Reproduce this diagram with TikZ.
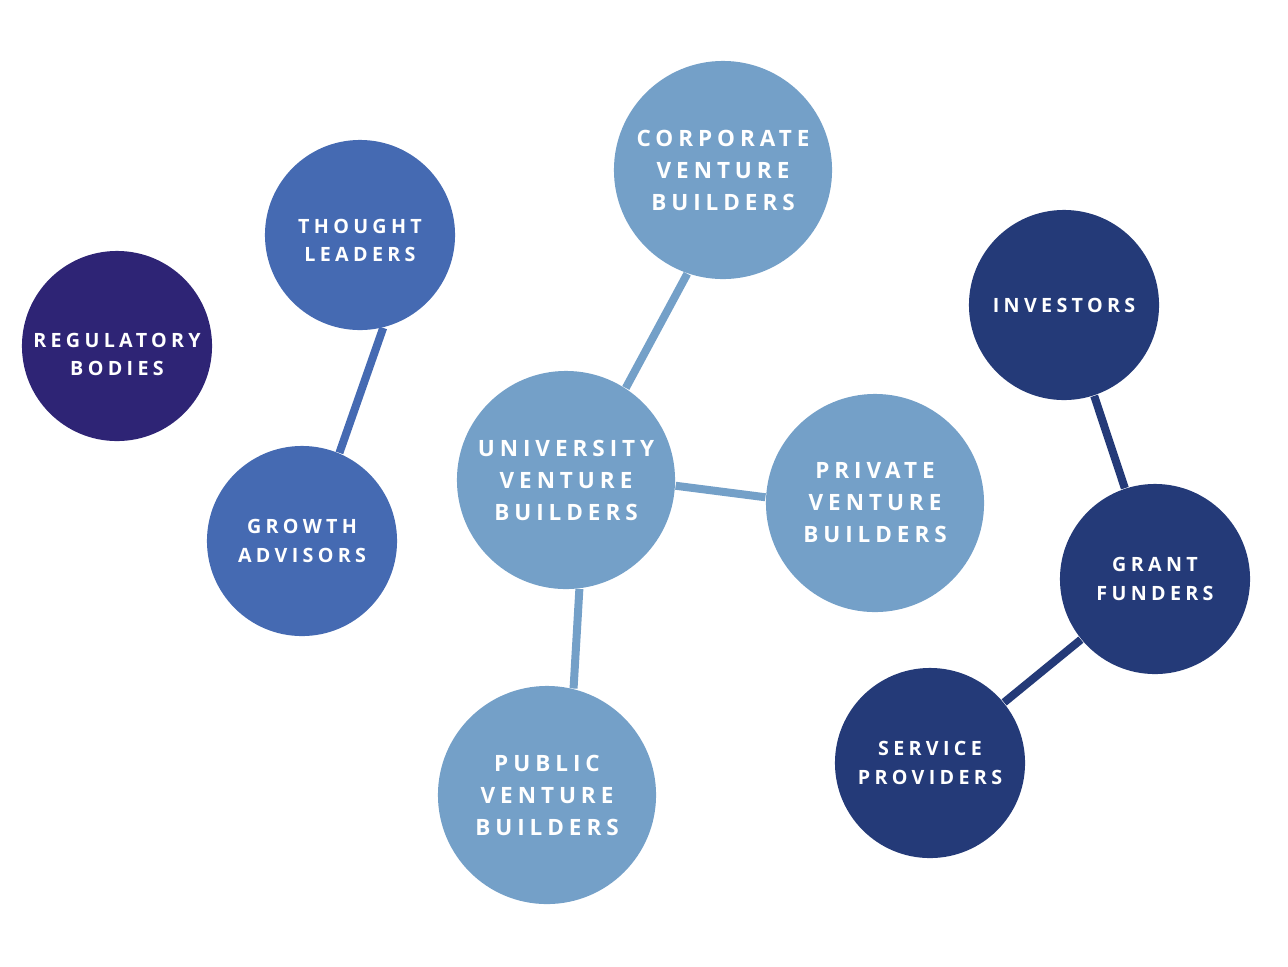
\documentclass[tikz,border=0pt]{standalone}
\usepackage{fontspec}
\setmainfont{Open Sans}
\usetikzlibrary{backgrounds}
\definecolor{regcol}{HTML}{2E2475}
\definecolor{midcol}{HTML}{456AB2}
\definecolor{lightcol}{HTML}{74A0C8}
\definecolor{navycol}{HTML}{243A78}
\newfontfamily\labelfont[LetterSpace=22]{Open Sans}

\begin{document}
\begin{tikzpicture}[x=0.01cm, y=-0.01cm,
  small/.style={circle, inner sep=0pt, minimum size=1.9cm, text=white, align=center,
    font=\labelfont\fontsize{5.6}{8.1}\selectfont\bfseries},
  big/.style={circle, inner sep=0pt, minimum size=2.18cm, text=white, align=center,
    font=\labelfont\fontsize{6.4}{9.1}\selectfont\bfseries},
  link/.style={line width=0.08cm}]
\useasboundingbox (0,0) rectangle (1288,966);

\node[small, fill=regcol]   (reg)     at (117,346)  {\rule{0pt}{0.31cm}REGULATORY\\BODIES};
\node[small, fill=midcol]   (thought) at (360,235)  {\rule{0pt}{0.25cm}THOUGHT\\LEADERS};
\node[small, fill=midcol]   (growth)  at (302,541)  {GROWTH\\ADVISORS};
\node[big, fill=lightcol]   (corp)    at (723,170)  {CORPORATE\\VENTURE\\BUILDERS};
\node[big, fill=lightcol]   (univ)    at (566,480)  {UNIVERSITY\\VENTURE\\BUILDERS};
\node[big, fill=lightcol]   (priv)    at (875,503)  {PRIVATE\\VENTURE\\BUILDERS};
\node[big, fill=lightcol]   (pub)     at (547,795)  {PUBLIC\\VENTURE\\BUILDERS};
\node[small, fill=navycol]  (inv)     at (1064,305) {INVESTORS};
\node[small, fill=navycol]  (grant)   at (1155,579) {GRANT\\FUNDERS};
\node[small, fill=navycol]  (serv)    at (930,763)  {SERVICE\\PROVIDERS};

% links behind the circles
\begin{scope}[on background layer]
\draw[link, midcol]   (thought.-76) -- (growth.67);
\draw[link, lightcol] (univ.57) -- (corp.-109);
\draw[link, lightcol] (univ.-3) -- (priv.177);
\draw[link, lightcol] (univ.-83) -- (pub.76);
\draw[link, navycol]  (inv) -- (grant);
\draw[link, navycol]  (grant) -- (serv);
\end{scope}
\end{tikzpicture}
\end{document}
